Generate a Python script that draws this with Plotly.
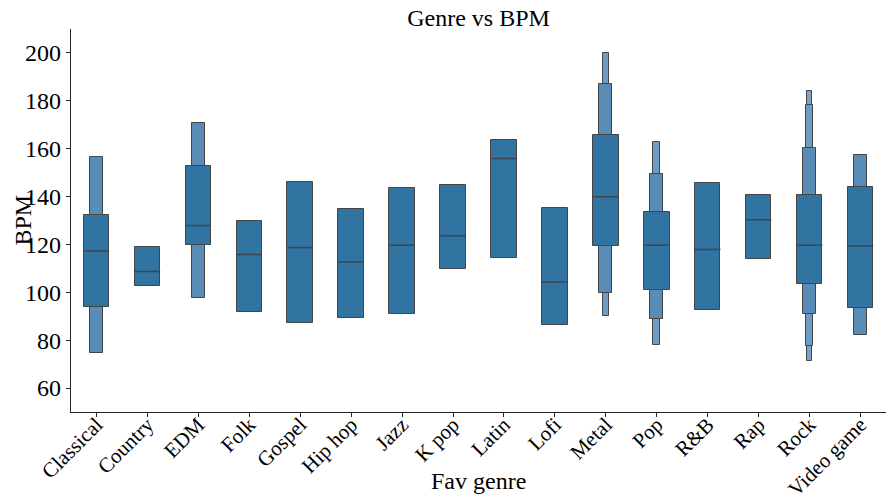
import plotly.graph_objects as go

genres = ["Classical", "Country", "EDM", "Folk", "Gospel", "Hip hop", "Jazz", "K pop",
          "Latin", "Lofi", "Metal", "Pop", "R&B", "Rap", "Rock", "Video game"]

medians = [117.3, 108.7, 127.9, 115.8, 118.7, 112.7, 119.7, 123.6,
           155.9, 104.3, 139.9, 119.7, 117.9, 130.3, 119.7, 119.4]

# letter-value boxes, level 1 (innermost, widest)
box1_lo = [94.0, 102.7, 119.8, 91.7, 87.1, 89.4, 91.0, 109.7,
           114.3, 86.3, 119.2, 100.9, 92.7, 113.9, 103.3, 93.3]
box1_hi = [132.5, 118.9, 152.7, 129.7, 146.1, 135.0, 143.6, 144.8,
           163.8, 135.4, 165.8, 133.6, 145.7, 140.7, 140.7, 143.8]
# level 2
box2_lo = [74.5, None, 97.6, None, None, None, None, None,
           None, None, 99.7, 88.7, None, None, 90.9, 82.1]
box2_hi = [156.7, None, 170.6, None, None, None, None, None,
           None, None, 187.2, 149.6, None, None, 160.1, 157.3]
# level 3
box3_lo = [None, None, None, None, None, None, None, None,
           None, None, 89.9, 77.8, None, None, 77.5, None]
box3_hi = [None, None, None, None, None, None, None, None,
           None, None, 199.9, 162.8, None, None, 178.3, None]
# level 4
box4_lo = [None, None, None, None, None, None, None, None,
           None, None, None, None, None, None, 71.1, None]
box4_hi = [None, None, None, None, None, None, None, None,
           None, None, None, None, None, None, 183.9, None]

y_ticks = [60, 80, 100, 120, 140, 160, 180, 200]

FONT = "Liberation Serif"
EDGE = "#454545"
levels = [
    (box4_lo, box4_hi, 0.085, "#7ba5ca"),
    (box3_lo, box3_hi, 0.13, "#6d9cc4"),
    (box2_lo, box2_hi, 0.25, "#5a8cb8"),
    (box1_lo, box1_hi, 0.5, "#3274a1"),
]

fig = go.Figure()
for lo, hi, w, col in levels:
    xs, bases, hs = [], [], []
    for i, (a, b) in enumerate(zip(lo, hi)):
        if a is None or b is None:
            continue
        xs.append(i)
        bases.append(a)
        hs.append(b - a)
    fig.add_trace(go.Bar(x=xs, y=hs, base=bases, width=w,
                         marker=dict(color=col, line=dict(color=EDGE, width=1)),
                         showlegend=False, hoverinfo="skip"))

mx, my = [], []
for i, m in enumerate(medians):
    mx += [i - 0.25, i + 0.25, None]
    my += [m, m, None]
fig.add_trace(go.Scatter(x=mx, y=my, mode="lines",
                         line=dict(color="#3b4650", width=1.5),
                         showlegend=False, hoverinfo="skip"))

fig.update_layout(
    width=891, height=503,
    margin=dict(l=71, r=5, t=29, b=91, autoexpand=False),
    paper_bgcolor="white", plot_bgcolor="white",
    barmode="overlay", bargap=0,
    font=dict(family=FONT, color="black"),
    title=dict(text="Genre vs BPM", x=(71 + 886) / 2 / 891, xanchor="center",
               y=1 - 18 / 503, yanchor="middle", yref="container",
               font=dict(family=FONT, size=24, color="black")),
    xaxis=dict(range=[-0.5, 15.5], tickmode="array", tickvals=list(range(len(genres))),
               ticktext=genres, tickangle=-45, showgrid=False, zeroline=False,
               showline=True, linecolor="#262626", linewidth=1.2, automargin=False,
               ticks="outside", ticklen=4, tickcolor="#262626", ticklabelstandoff=-13,
               tickfont=dict(family=FONT, size=21, color="black")),
    yaxis=dict(range=[50, 210], tickmode="array", tickvals=y_ticks,
               showgrid=False, zeroline=False, automargin=False,
               showline=True, linecolor="#262626", linewidth=1.2,
               ticks="outside", ticklen=4, tickcolor="#262626",
               tickfont=dict(family=FONT, size=24, color="black")),
    annotations=[
        dict(text="Fav genre", xref="paper", yref="paper",
             x=(478 - 71) / 815, y=(412 - 481) / 383, xanchor="center", yanchor="middle",
             showarrow=False, font=dict(family=FONT, size=24, color="black")),
        dict(text="BPM", xref="paper", yref="paper", textangle=-90,
             x=(22 - 71) / 815, y=0.5, xanchor="center", yanchor="middle",
             showarrow=False, font=dict(family=FONT, size=24, color="black")),
    ],
)

fig.write_html("out.html")
